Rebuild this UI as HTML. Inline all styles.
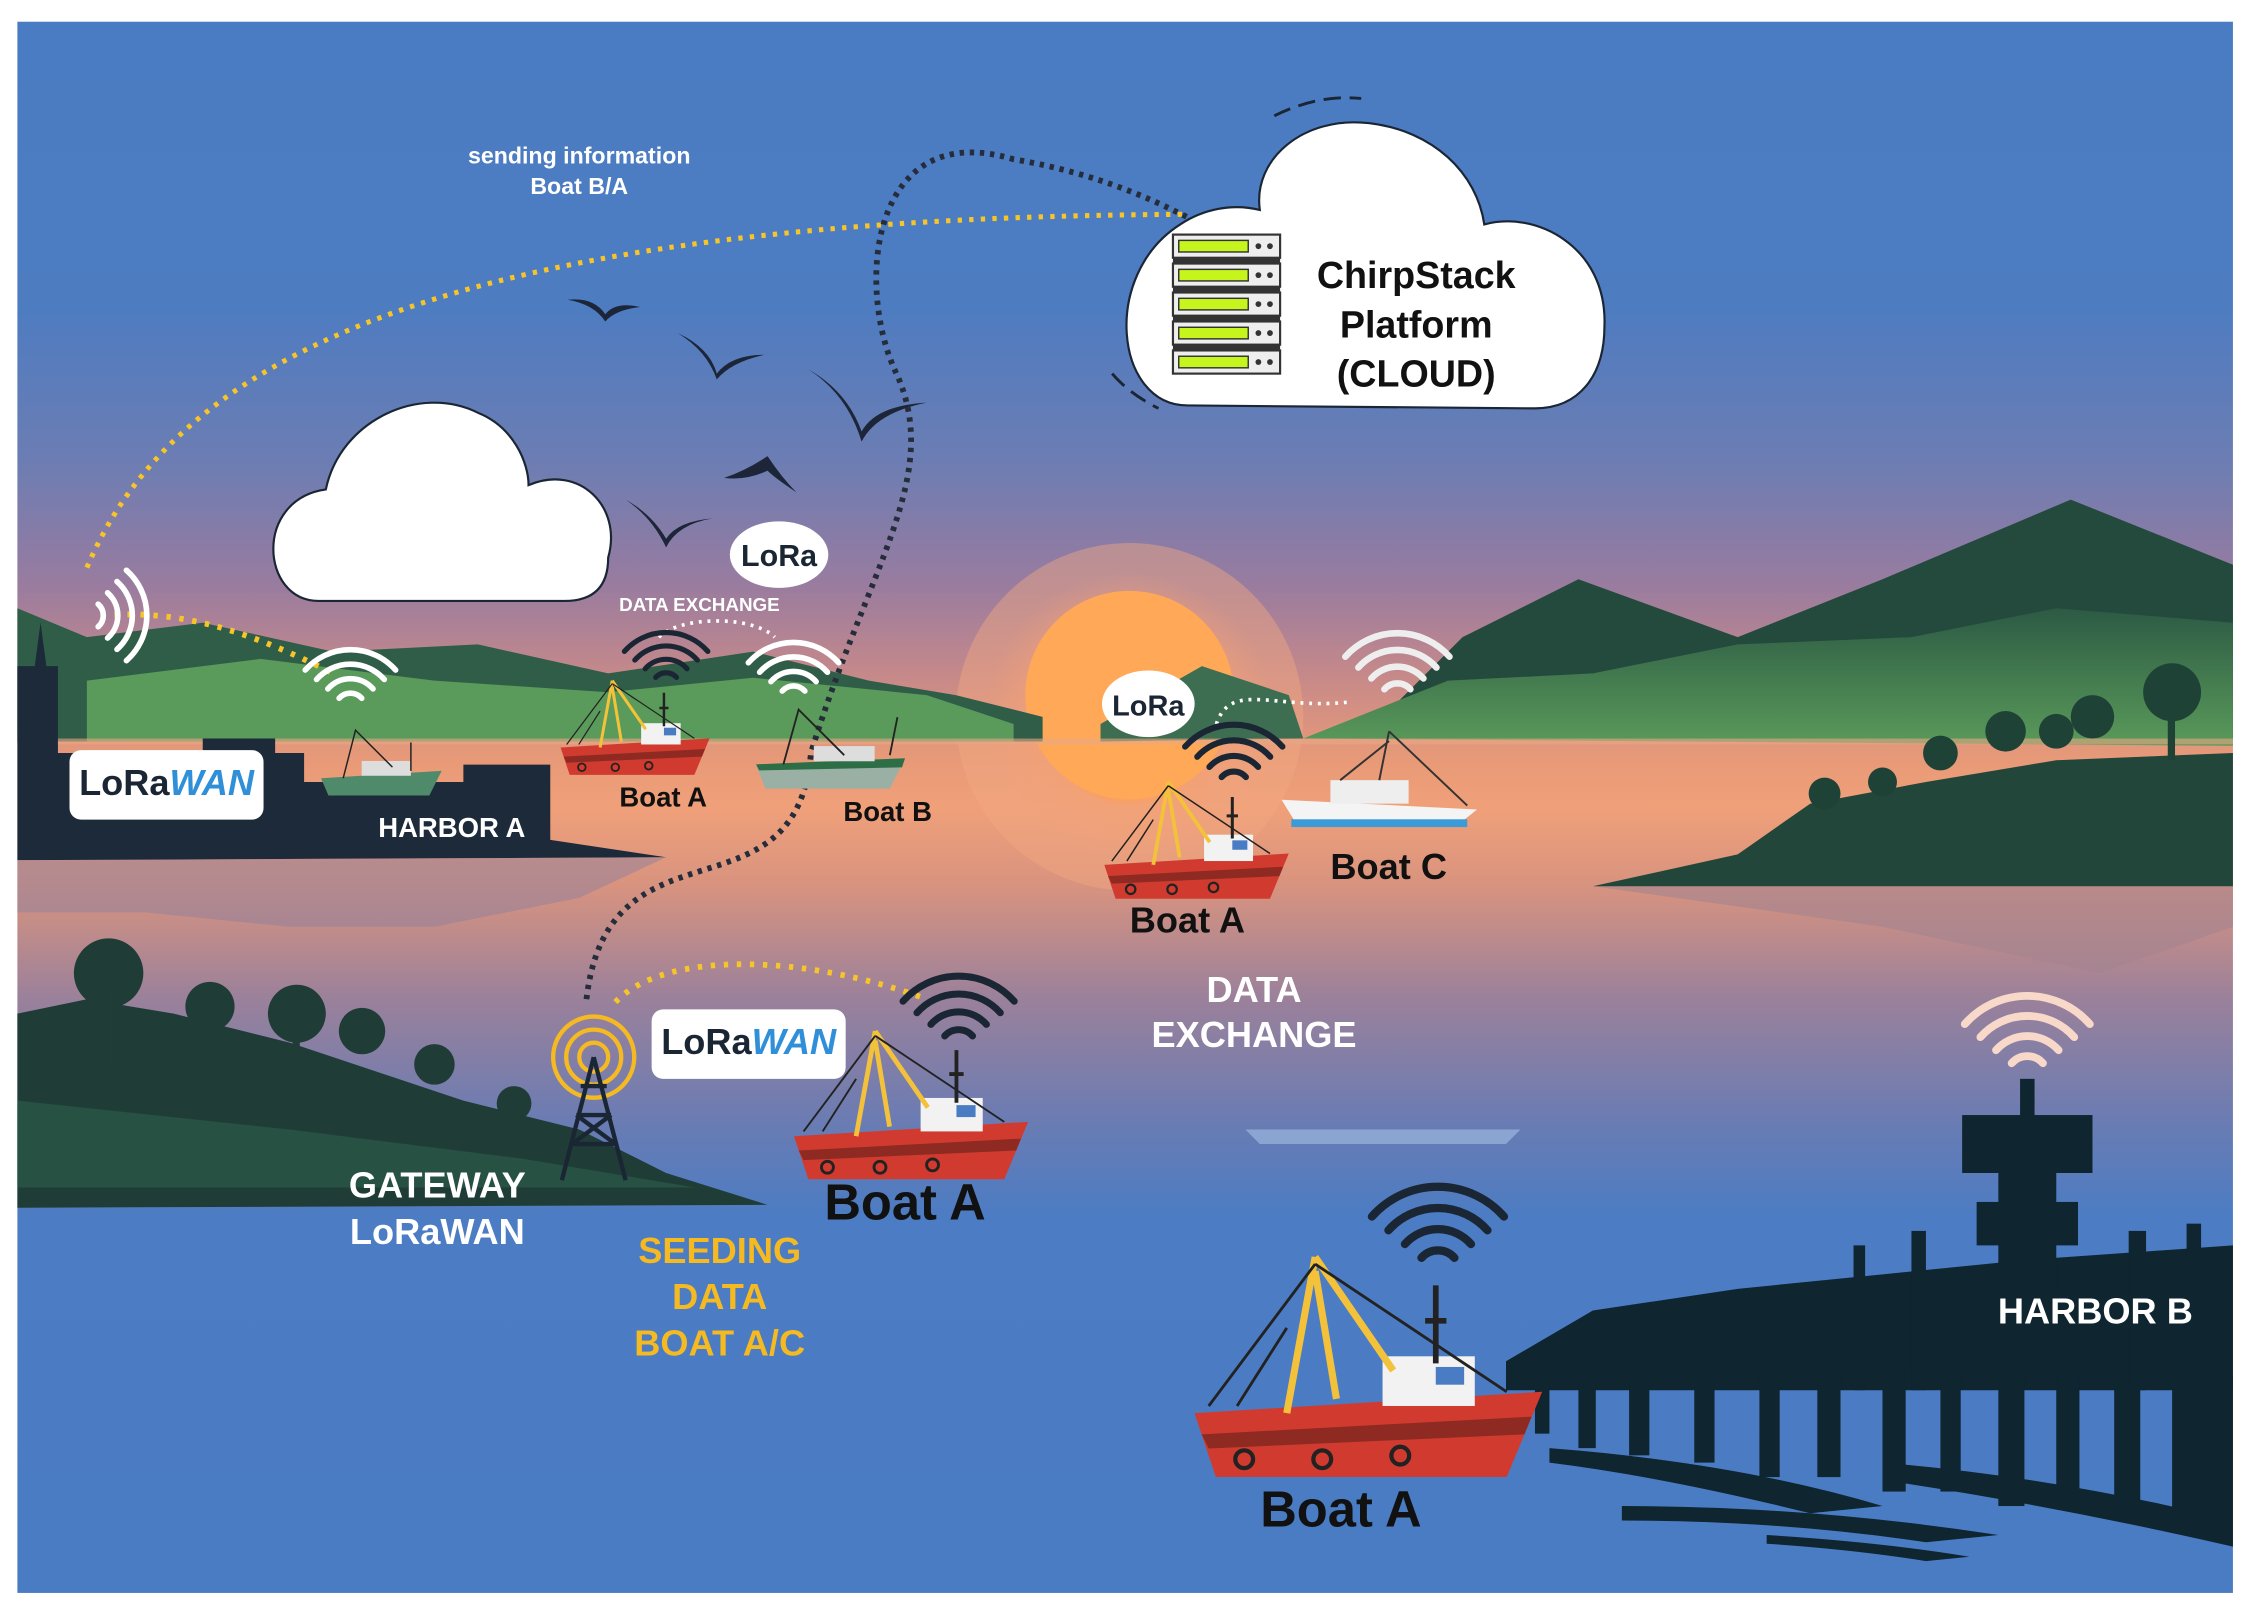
<!DOCTYPE html>
<html><head><meta charset="utf-8"><style>
html,body{margin:0;padding:0;background:#fff;width:2259px;height:1619px;overflow:hidden}
svg{display:block}
text{font-family:"Liberation Sans",Arial,sans-serif;font-weight:bold}
</style></head><body>
<svg width="2259" height="1619" viewBox="0 0 1560 1118" preserveAspectRatio="none" xmlns="http://www.w3.org/2000/svg">
<defs>
<linearGradient id="sky" x1="0" y1="0" x2="0" y2="1">
<stop offset="0" stop-color="#4a7cc3"/>
<stop offset="0.18" stop-color="#4d7cc1"/>
<stop offset="0.28" stop-color="#6c7db3"/>
<stop offset="0.36" stop-color="#9a7c9f"/>
<stop offset="0.42" stop-color="#c98a88"/>
<stop offset="0.47" stop-color="#e89a78"/>
<stop offset="0.5" stop-color="#f0a079"/>
<stop offset="0.55" stop-color="#d8937f"/>
<stop offset="0.62" stop-color="#9c819a"/>
<stop offset="0.7" stop-color="#6a7cb3"/>
<stop offset="0.76" stop-color="#4c7cc3"/>
<stop offset="1" stop-color="#4a7cc3"/>
</linearGradient>
<radialGradient id="sun" cx="0.5" cy="0.5" r="0.5">
<stop offset="0" stop-color="#ffa85a"/>
<stop offset="0.55" stop-color="#ffa055"/>
<stop offset="0.62" stop-color="#f3a174" stop-opacity="0.8"/>
<stop offset="1" stop-color="#f0a07a" stop-opacity="0"/>
</radialGradient>
<linearGradient id="mtn" x1="0" y1="0" x2="0" y2="1">
<stop offset="0" stop-color="#2c5a44"/><stop offset="1" stop-color="#5a9a5a"/>
</linearGradient>
<g id="boat">
<polygon points="2,44 100,38 90,62 8,62" fill="#d13b2f"/>
<polygon points="4,50 97,45 95,50 6,54" fill="#8e2a22"/>
<circle cx="16" cy="57" r="2.5" fill="none" stroke="#222" stroke-width="1.2"/>
<circle cx="38" cy="57" r="2.5" fill="none" stroke="#222" stroke-width="1.2"/>
<circle cx="60" cy="56" r="2.5" fill="none" stroke="#222" stroke-width="1.2"/>
<rect x="55" y="28" width="26" height="14" fill="#f2f2f2"/>
<rect x="70" y="31" width="8" height="5" fill="#4a7cc3"/>
<path d="M28 44 L36 0 M36 0 L58 32 M36 4 L42 40" stroke="#f3c23a" stroke-width="2" fill="none"/>
<path d="M6 42 L36 2 M36 2 L90 38 M14 42 L28 20" stroke="#222" stroke-width="0.8" fill="none"/>
<path d="M70 8 L70 30 M67 18 L73 18" stroke="#222" stroke-width="1.6"/>
</g>
<g id="wifi" fill="none" stroke-linecap="round">
<path d="M-6 -6 A8 8 0 0 1 6 -6" stroke-width="3"/>
<path d="M-12 -11 A16 16 0 0 1 12 -11" stroke-width="3"/>
<path d="M-18 -16 A24 24 0 0 1 18 -16" stroke-width="3"/>
<path d="M-24 -21 A32 32 0 0 1 24 -21" stroke-width="3"/>
</g>
</defs>
<rect x="0" y="0" width="1560" height="1118" fill="#fff"/>
<rect x="12" y="15" width="1530" height="1085" fill="url(#sky)"/>

<!-- sun -->
<circle cx="780" cy="495" r="120" fill="#f2a880" opacity="0.45"/>
<circle cx="780" cy="495" r="100" fill="url(#sun)" opacity="0.9"/>
<circle cx="780" cy="480" r="72" fill="#ffa858"/>

<!-- background mountains right -->
<path d="M940 510 L1010 440 L1090 400 L1200 440 L1300 400 L1430 345 L1542 390 L1542 510 Z" fill="#244a3e"/>
<path d="M900 510 L1000 470 L1100 465 L1200 445 L1320 440 L1420 420 L1542 430 L1542 515 Z" fill="url(#mtn)"/>
<!-- mountains left -->
<path d="M12 420 L60 440 L140 430 L230 450 L330 445 L420 465 L520 450 L600 470 L660 480 L720 495 L720 512 L12 512 Z" fill="#2f5d48"/>
<path d="M60 470 L180 455 L300 470 L420 478 L520 468 L640 480 L700 500 L700 512 L60 512 Z" fill="#5a9a5a"/>
<path d="M760 500 L830 460 L890 480 L900 510 L760 512 Z" fill="#3d6e52"/>
<rect x="12" y="510" width="1530" height="4" fill="#e7a886" opacity="0.6"/>
<path d="M1100 612 L1542 612 L1542 640 L1450 672 L1300 640 Z" fill="#a3838f" opacity="0.6"/>
<path d="M860 780 L1050 780 L1040 790 L870 790 Z" fill="#9bb7de" opacity="0.7"/>

<!-- right island -->
<path d="M1100 612 L1200 590 L1250 555 L1330 540 L1420 525 L1542 520 L1542 612 Z" fill="#22463a"/>
<g fill="#1f4236">
<circle cx="1500" cy="478" r="20"/><rect x="1497" y="480" width="5" height="45"/>
<circle cx="1445" cy="495" r="15"/><circle cx="1420" cy="505" r="12"/><circle cx="1385" cy="505" r="14"/>
<circle cx="1340" cy="520" r="12"/><circle cx="1300" cy="540" r="10"/><circle cx="1260" cy="548" r="11"/>
</g>

<!-- harbor A city -->
<path d="M12 530 L12 460 L24 460 L28 430 L32 460 L40 460 L40 520 L140 520 L140 510 L190 510 L190 520 L210 520 L210 540 L320 540 L320 528 L380 528 L380 580 L460 592 L12 594 Z" fill="#1c2a3a"/>
<path d="M12 594 L460 592 L400 620 L300 640 L200 640 L100 630 L12 630 Z" fill="#8f7f9d" opacity="0.5"/>

<!-- left island bottom -->
<path d="M12 700 L60 690 L120 700 L200 720 L260 740 L320 760 L400 780 L460 810 L530 832 L12 834 Z" fill="#1f3d36"/>
<g fill="#1f3d36">
<circle cx="75" cy="672" r="24"/><circle cx="145" cy="695" r="17"/><circle cx="205" cy="700" r="20"/><circle cx="250" cy="712" r="16"/><circle cx="300" cy="735" r="14"/><circle cx="355" cy="762" r="12"/>
<rect x="72" y="680" width="6" height="60"/><rect x="202" y="700" width="5" height="60"/>
</g>
<path d="M12 760 L200 780 L360 800 L480 820 L12 820 Z" fill="#2b5a48" opacity="0.7"/>

<!-- harbor B pier -->
<path d="M1040 940 L1100 905 L1200 890 L1300 880 L1400 870 L1542 860 L1542 960 L1040 960 Z" fill="#0f2530"/>
<g fill="#0f2530">
<rect x="1355" y="770" width="90" height="40"/><rect x="1380" y="810" width="40" height="80"/><rect x="1365" y="830" width="70" height="30"/>
<rect x="1395" y="745" width="10" height="30"/>
<rect x="1060" y="950" width="10" height="40"/><rect x="1090" y="950" width="12" height="50"/><rect x="1125" y="950" width="14" height="55"/><rect x="1170" y="950" width="14" height="60"/><rect x="1215" y="950" width="14" height="70"/><rect x="1255" y="950" width="16" height="70"/><rect x="1300" y="950" width="16" height="80"/><rect x="1340" y="950" width="14" height="80"/><rect x="1380" y="950" width="18" height="90"/><rect x="1420" y="950" width="16" height="90"/><rect x="1460" y="950" width="18" height="95"/><rect x="1500" y="950" width="42" height="100"/>
<rect x="1280" y="860" width="8" height="100"/><rect x="1320" y="850" width="10" height="110"/><rect x="1470" y="850" width="12" height="110"/><rect x="1510" y="845" width="10" height="115"/>
<path d="M1070 1000 Q1200 1010 1300 1040 L1250 1045 Q1150 1020 1070 1010Z"/>
<path d="M1120 1040 Q1250 1040 1380 1060 L1330 1065 Q1230 1050 1120 1050Z"/>
<path d="M1300 1010 Q1420 1020 1542 1050 L1542 1068 Q1420 1040 1300 1022Z"/>
<path d="M1220 1060 Q1300 1065 1360 1075 L1330 1078 Q1280 1070 1220 1066Z"/>
</g>
<text x="1447" y="914" font-size="25" fill="#fff" text-anchor="middle">HARBOR B</text>
<use href="#wifi" transform="translate(1400,745) scale(1.8)" stroke="#f8d8c8"/>

<!-- white cloud left -->
<path d="M220 415 C180 415 175 345 225 338 C235 290 290 265 330 285 C355 295 365 320 365 335 C400 320 430 350 420 385 C420 405 410 415 390 415 Z" fill="#fff" stroke="#1b2634" stroke-width="1.5"/>

<!-- birds -->
<g fill="#1c2638">
<path d="M392 207 Q410 205 418 217 Q425 208 442 212 Q425 214 418 222 Q410 210 392 207Z"/>
<path d="M468 230 Q490 240 495 258 Q505 245 528 245 Q505 250 495 262 Q488 242 468 230Z"/>
<path d="M558 255 Q585 270 595 298 Q605 280 640 278 Q605 285 595 305 Q585 272 558 255Z"/>
<path d="M500 330 Q515 325 530 315 Q540 330 550 340 Q535 330 530 325 Q515 332 500 330Z"/>
<path d="M432 345 Q450 355 460 372 Q468 360 492 358 Q468 362 460 378 Q450 357 432 345Z"/>
</g>

<!-- dotted connectors -->
<path d="M60 392 C120 250 300 150 820 148" fill="none" stroke="#f7c52a" stroke-width="3.5" stroke-dasharray="3 5"/>
<path d="M70 425 C130 420 180 440 230 465" fill="none" stroke="#f7c52a" stroke-width="4" stroke-dasharray="3 6"/>
<path d="M405 690 C420 560 550 640 560 520 C600 390 650 330 620 260 C590 200 600 80 700 110 C760 120 800 140 820 150" fill="none" stroke="#252d3a" stroke-width="4" stroke-dasharray="3 4"/>
<path d="M425 692 C460 655 560 660 640 690" fill="none" stroke="#f7c52a" stroke-width="4" stroke-dasharray="3 6"/>
<path d="M455 440 C470 425 520 425 535 440" fill="none" stroke="#fff" stroke-width="2.5" stroke-dasharray="2 4"/>
<path d="M840 500 C850 470 880 490 930 485" fill="none" stroke="#fff" stroke-width="2.5" stroke-dasharray="2 4"/>

<!-- platform cloud -->
<path d="M820 280 C770 280 760 190 815 155 C830 145 850 140 870 145 C865 110 900 80 945 85 C990 90 1020 120 1025 155 C1060 145 1110 170 1108 225 C1108 260 1090 282 1060 282 Z" fill="#fff" stroke="#1b2634" stroke-width="1.5"/>
<path d="M880 80 Q910 65 940 68" fill="none" stroke="#1b2634" stroke-width="2" stroke-dasharray="12 6"/>
<path d="M768 258 Q780 272 800 282" fill="none" stroke="#1b2634" stroke-width="2" stroke-dasharray="12 6"/>
<g>
<g id="srv"><rect x="810" y="162" width="74" height="16" fill="#eee" stroke="#333" stroke-width="1.5"/><rect x="814" y="166" width="48" height="8" fill="#c6f51e" stroke="#333"/><circle cx="869" cy="170" r="2" fill="#333"/><circle cx="877" cy="170" r="2" fill="#333"/></g>
<use href="#srv" y="20"/><use href="#srv" y="40"/><use href="#srv" y="60"/><use href="#srv" y="80"/>
<rect x="810" y="178" width="74" height="4" fill="#333"/><rect x="810" y="198" width="74" height="4" fill="#333"/><rect x="810" y="218" width="74" height="4" fill="#333"/><rect x="810" y="238" width="74" height="4" fill="#333"/>
</g>
<text x="978" y="199" font-size="26" fill="#111" text-anchor="middle">ChirpStack</text>
<text x="978" y="233" font-size="26" fill="#111" text-anchor="middle">Platform</text>
<text x="978" y="267" font-size="26" fill="#111" text-anchor="middle" font-weight="normal">(CLOUD)</text>

<text x="400" y="113" font-size="16" fill="#fff" text-anchor="middle">sending information</text>
<text x="400" y="134" font-size="16" fill="#fff" text-anchor="middle">Boat B/A</text>

<!-- LoRa badges -->
<ellipse cx="538" cy="383" rx="34" ry="23" fill="#fff"/>
<text x="538" y="391" font-size="21" fill="#1b2634" text-anchor="middle">LoRa</text>
<ellipse cx="793" cy="486" rx="32" ry="23" fill="#fff"/>
<text x="793" y="494" font-size="20" fill="#1b2634" text-anchor="middle">LoRa</text>
<text x="483" y="422" font-size="13" fill="#fff" text-anchor="middle">DATA EXCHANGE</text>

<rect x="48" y="518" width="134" height="48" rx="8" fill="#fff"/>
<text x="115" y="549" font-size="25" text-anchor="middle"><tspan fill="#1b2634">LoRa</tspan><tspan fill="#2f8fd8" font-style="italic">WAN</tspan></text>
<rect x="450" y="697" width="134" height="48" rx="8" fill="#fff"/>
<text x="517" y="728" font-size="25" text-anchor="middle"><tspan fill="#1b2634">LoRa</tspan><tspan fill="#2f8fd8" font-style="italic">WAN</tspan></text>

<!-- wifi icons -->
<g stroke="#fff"><use href="#wifi" transform="translate(242,490) scale(1.3)"/><use href="#wifi" transform="translate(548,485) scale(1.3)"/></g>
<g stroke="#eee"><use href="#wifi" transform="translate(965,485) scale(1.5)"/></g>
<g stroke="#1b2634"><use href="#wifi" transform="translate(460,475) scale(1.2)"/><use href="#wifi" transform="translate(852,545) scale(1.4)"/><use href="#wifi" transform="translate(662,725) scale(1.6)"/><use href="#wifi" transform="translate(993,880) scale(1.9)"/></g>
<g stroke="#fff"><use href="#wifi" transform="translate(60,425) rotate(90) scale(1.3)"/></g>

<!-- boats -->
<g transform="translate(220,500) scale(0.85)"><polygon points="2,44 100,38 90,58 8,58" fill="#4f8a6a"/><rect x="35" y="30" width="40" height="12" fill="#ddd"/><path d="M20 44 L30 5 L60 35 M75 15 L75 38" stroke="#222" stroke-width="1.2" fill="none"/></g>
<g transform="translate(520,490) scale(1.05)"><polygon points="2,36 100,32 90,52 8,52" fill="#9ab0a5"/><polygon points="2,36 100,32 98,38 4,40" fill="#2e6e46"/><rect x="40" y="24" width="40" height="10" fill="#ddd"/><path d="M20 36 L30 0 L60 30 M95 5 L90 30" stroke="#222" stroke-width="1.2" fill="none"/></g>
<g transform="translate(885,505) scale(1.35)"><polygon points="0,35 100,40 90,48 8,48" fill="#f4f4f4"/><rect x="5" y="45" width="90" height="4" fill="#3b9bd8"/><rect x="25" y="25" width="40" height="12" fill="#eee"/><path d="M50 25 L55 0 M55 0 L95 38 M30 25 L55 5" stroke="#333" stroke-width="1" fill="none"/></g>
<use href="#boat" transform="translate(385,470) scale(1.05)"/>
<use href="#boat" transform="translate(760,540) scale(1.3)"/>
<use href="#boat" transform="translate(545,712) scale(1.65)"/>
<use href="#boat" transform="translate(820,868) scale(2.45)"/>

<!-- gateway tower -->
<g stroke="#f5b921" fill="none" stroke-width="3"><circle cx="410" cy="730" r="10"/><circle cx="410" cy="730" r="19"/><circle cx="410" cy="730" r="28"/></g>
<path d="M410 730 L388 815 M410 730 L432 815 M395 790 L425 790 M398 770 L422 770 M401 750 L419 750 M395 790 L422 770 M425 790 L398 770" stroke="#1b2634" stroke-width="3" fill="none"/>

<!-- labels -->
<text x="458" y="557" font-size="19" fill="#111" text-anchor="middle">Boat A</text>
<text x="613" y="567" font-size="19" fill="#111" text-anchor="middle">Boat B</text>
<text x="312" y="578" font-size="19" fill="#fff" text-anchor="middle">HARBOR A</text>
<text x="959" y="607" font-size="25" fill="#111" text-anchor="middle">Boat C</text>
<text x="820" y="644" font-size="25" fill="#111" text-anchor="middle">Boat A</text>
<text x="866" y="692" font-size="25" fill="#fff" text-anchor="middle">DATA</text>
<text x="866" y="723" font-size="25" fill="#fff" text-anchor="middle">EXCHANGE</text>
<text x="625" y="842" font-size="35" fill="#111" text-anchor="middle">Boat A</text>
<text x="926" y="1054" font-size="35" fill="#111" text-anchor="middle">Boat A</text>
<text x="302" y="827" font-size="25" fill="#fff" text-anchor="middle">GATEWAY</text>
<text x="302" y="859" font-size="25" fill="#fff" text-anchor="middle">LoRaWAN</text>
<text x="497" y="872" font-size="25" fill="#f5b921" text-anchor="middle">SEEDING</text>
<text x="497" y="904" font-size="25" fill="#f5b921" text-anchor="middle">DATA</text>
<text x="497" y="936" font-size="25" fill="#f5b921" text-anchor="middle">BOAT A/C</text>
</svg>
</body></html>
